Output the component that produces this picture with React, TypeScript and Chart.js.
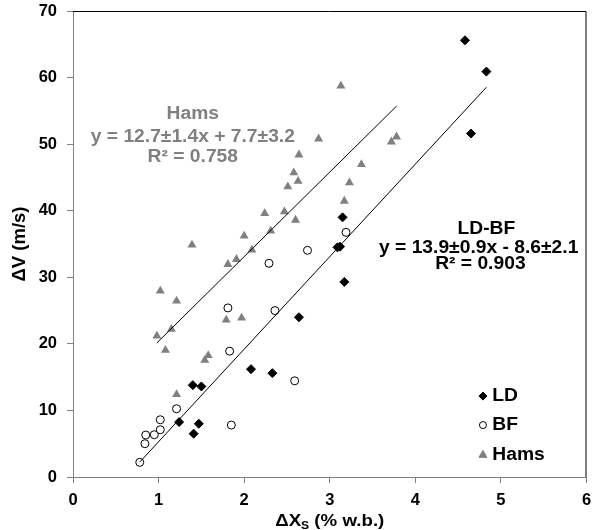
import React, { useEffect, useRef } from 'react';
import { Chart, registerables } from 'chart.js';
import { drawPoint } from 'chart.js/helpers';

Chart.register(...registerables);

// LD samples
const ldX = [4.58, 4.83, 4.65, 3.15, 3.09, 3.12, 3.17, 2.64, 2.08, 2.33, 1.40, 1.50, 1.24, 1.47, 1.41];
const ldY = [65.6, 60.9, 51.6, 39.0, 34.5, 34.6, 29.3, 24.0, 16.2, 15.6, 13.8, 13.6, 8.25, 8.0, 6.5];

// BF samples
const bfX = [0.78, 0.84, 0.85, 0.95, 1.02, 1.02, 1.21, 1.85, 1.83, 1.81, 2.36, 2.59, 2.29, 2.74, 3.19];
const bfY = [2.2, 5.0, 6.3, 6.35, 7.1, 8.6, 10.25, 7.8, 18.9, 25.4, 25.0, 14.45, 32.1, 34.05, 36.75];

// Hams samples
const hamsX = [0.98, 1.02, 1.08, 1.15, 1.21, 1.21, 1.39, 1.54, 1.58, 1.79, 1.81, 1.91, 1.97, 2.00, 2.09,
  2.24, 2.31, 2.47, 2.51, 2.58, 2.60, 2.63, 2.64, 2.87, 3.13, 3.17, 3.23, 3.37, 3.72, 3.78];
const hamsY = [21.2, 27.95, 19.05, 22.2, 26.45, 12.4, 34.85, 17.55, 18.25, 23.6, 31.95, 32.7, 23.9, 36.2, 34.1,
  39.6, 36.95, 39.85, 43.6, 45.7, 38.6, 44.45, 48.4, 50.8, 58.75, 41.45, 44.2, 46.95, 50.35, 51.1];

// Linear fits as printed on the chart
const hamsSlope = 12.7;
const hamsIntercept = 7.7;
const ldbfSlope = 13.9;
const ldbfIntercept = -8.6;

const xTicks = [0, 1, 2, 3, 4, 5, 6];
const yTicks = [0, 10, 20, 30, 40, 50, 60, 70];

const hamsLabel = ['Hams', 'y = 12.7±1.4x + 7.7±3.2', 'R² = 0.758'];
const ldbfLabel = ['LD-BF', 'y = 13.9±0.9x - 8.6±2.1', 'R² = 0.903'];
const legendNames = ['LD', 'BF', 'Hams'];

const GRAY = '#808080';
const FONT = '"Liberation Sans", Arial, sans-serif';
const STRETCH = 1.1;

const zip = (xs: number[], ys: number[]) => xs.map((x, i) => ({ x, y: ys[i] }));

const fitLine = (xs: number[], slope: number, intercept: number) => {
  const lo = Math.min(...xs);
  const hi = Math.max(...xs);
  return [
    { x: lo, y: slope * lo + intercept },
    { x: hi, y: slope * hi + intercept },
  ];
};

function stretchedText(ctx: CanvasRenderingContext2D, text: string, x: number, y: number,
  color: string, align: CanvasTextAlign, size = 17.5) {
  ctx.save();
  ctx.font = `bold ${size}px ${FONT}`;
  ctx.fillStyle = color;
  ctx.textAlign = align;
  ctx.textBaseline = 'middle';
  ctx.translate(x, y);
  ctx.scale(STRETCH, 1);
  ctx.fillText(text, 0, 0);
  ctx.restore();
}

const decorations = {
  id: 'decorations',
  afterDraw(chart: any) {
    const { ctx, chartArea, scales } = chart;
    const xs = scales.x;
    const ys = scales.y;

    // frame on top and right
    ctx.save();
    ctx.strokeStyle = '#000';
    ctx.lineWidth = 1;
    ctx.beginPath();
    ctx.moveTo(chartArea.left, chartArea.top + 0.5);
    ctx.lineTo(chartArea.right - 0.5, chartArea.top + 0.5);
    ctx.lineTo(chartArea.right - 0.5, chartArea.bottom);
    ctx.stroke();
    ctx.restore();

    // fit labels
    const hx = xs.getPixelForValue(1.4);
    stretchedText(ctx, hamsLabel[0], hx, ys.getPixelForValue(54.5), GRAY, 'center');
    stretchedText(ctx, hamsLabel[1], hx, ys.getPixelForValue(51.1), GRAY, 'center');
    stretchedText(ctx, hamsLabel[2], hx, ys.getPixelForValue(48.0), GRAY, 'center');
    stretchedText(ctx, ldbfLabel[0], xs.getPixelForValue(4.83), ys.getPixelForValue(37.3), '#000', 'center');
    stretchedText(ctx, ldbfLabel[1], xs.getPixelForValue(4.74), ys.getPixelForValue(34.4), '#000', 'center');
    stretchedText(ctx, ldbfLabel[2], xs.getPixelForValue(4.76), ys.getPixelForValue(31.9), '#000', 'center');

    // legend
    const legendY = [12.15, 7.8, 3.3];
    const markerX = xs.getPixelForValue(4.79);
    const textX = xs.getPixelForValue(4.9);
    chart.data.datasets.slice(0, 3).forEach((ds: any, i: number) => {
      const py = ys.getPixelForValue(legendY[i]);
      ctx.save();
      ctx.fillStyle = ds.backgroundColor;
      ctx.strokeStyle = ds.borderColor;
      ctx.lineWidth = 1;
      drawPoint(ctx, { pointStyle: ds.pointStyle, radius: ds.legendRadius, borderWidth: 1, rotation: 0 }, markerX, py);
      ctx.restore();
      stretchedText(ctx, legendNames[i], textX, py, '#000', 'left');
    });

    // y title
    ctx.save();
    ctx.font = `bold 18.5px ${FONT}`;
    ctx.fillStyle = '#000';
    ctx.textAlign = 'center';
    ctx.textBaseline = 'middle';
    ctx.translate(20, (chartArea.top + chartArea.bottom) / 2);
    ctx.rotate(-Math.PI / 2);
    ctx.fillText('ΔV (m/s)', 0, 0);
    ctx.restore();

    // x title with subscript
    ctx.save();
    const cx = (chartArea.left + chartArea.right) / 2;
    const ty = 521;
    const big = `bold 17px ${FONT}`;
    const small = `bold 11px ${FONT}`;
    ctx.font = big;
    const w1 = ctx.measureText('ΔX').width;
    const w3 = ctx.measureText(' (% w.b.)').width;
    ctx.font = small;
    const w2 = ctx.measureText('S').width;
    const total = (w1 + w2 + w3) * STRETCH;
    ctx.translate(cx - total / 2, ty);
    ctx.scale(STRETCH, 1);
    ctx.fillStyle = '#000';
    ctx.textBaseline = 'middle';
    ctx.textAlign = 'left';
    ctx.font = big;
    ctx.fillText('ΔX', 0, 0);
    ctx.font = small;
    ctx.fillText('S', w1, 5);
    ctx.font = big;
    ctx.fillText(' (% w.b.)', w1 + w2, 0);
    ctx.restore();
  },
};

export default function App() {
  const ref = useRef<HTMLCanvasElement | null>(null);

  useEffect(() => {
    document.body.style.margin = '0';
    const canvas = ref.current;
    if (!canvas) return;

    const chart = new Chart(canvas, {
      type: 'scatter',
      data: {
        datasets: [
          {
            label: 'LD',
            data: zip(ldX, ldY),
            pointStyle: 'rectRot',
            pointRadius: 4.5,
            legendRadius: 4,
            backgroundColor: '#000',
            borderColor: '#000',
            borderWidth: 1,
            order: 1,
          } as any,
          {
            label: 'BF',
            data: zip(bfX, bfY),
            pointStyle: 'circle',
            pointRadius: 4,
            legendRadius: 3.5,
            backgroundColor: '#fff',
            borderColor: '#000',
            borderWidth: 1,
            order: 2,
          } as any,
          {
            label: 'Hams',
            data: zip(hamsX, hamsY),
            pointStyle: 'triangle',
            pointRadius: 5.2,
            legendRadius: 4.6,
            backgroundColor: GRAY,
            borderColor: GRAY,
            borderWidth: 0,
            order: 3,
          } as any,
          {
            label: 'Hams fit',
            type: 'line',
            data: fitLine(hamsX, hamsSlope, hamsIntercept),
            borderColor: '#000',
            borderWidth: 1,
            pointRadius: 0,
            fill: false,
            order: 0,
          } as any,
          {
            label: 'LD-BF fit',
            type: 'line',
            data: fitLine([...ldX, ...bfX], ldbfSlope, ldbfIntercept),
            borderColor: '#000',
            borderWidth: 1,
            pointRadius: 0,
            fill: false,
            order: 0,
          } as any,
        ],
      },
      options: {
        responsive: false,
        animation: false,
        layout: { padding: { top: 11, right: 3, left: 0, bottom: 0 } },
        plugins: {
          legend: { display: false },
          tooltip: { enabled: false },
        },
        scales: {
          x: {
            type: 'linear',
            min: 0,
            max: 6,
            afterBuildTicks: (s: any) => { s.ticks = xTicks.map((v) => ({ value: v })); },
            afterFit: (s: any) => { s.height = 53; s.paddingLeft = 0; s.paddingRight = 0; },
            ticks: {
              color: '#000',
              padding: 8,
              font: { family: FONT, size: 16.5, weight: 'bold' },
            },
            grid: { display: true, drawOnChartArea: false, drawTicks: true, tickLength: 6, color: GRAY },
            border: { color: GRAY, width: 1 },
          },
          y: {
            type: 'linear',
            min: 0,
            max: 70,
            afterBuildTicks: (s: any) => { s.ticks = yTicks.map((v) => ({ value: v })); },
            afterFit: (s: any) => { s.width = 73; s.paddingTop = 0; s.paddingBottom = 0; },
            ticks: {
              color: '#000',
              padding: 10,
              font: { family: FONT, size: 16.5, weight: 'bold' },
            },
            grid: { display: true, drawOnChartArea: false, drawTicks: true, tickLength: 6, color: GRAY },
            border: { color: GRAY, width: 1 },
          },
        },
      } as any,
      plugins: [decorations],
    });

    return () => chart.destroy();
  }, []);

  return <canvas ref={ref} width={592} height={530} style={{ display: 'block', width: 592, height: 530 }} />;
}
